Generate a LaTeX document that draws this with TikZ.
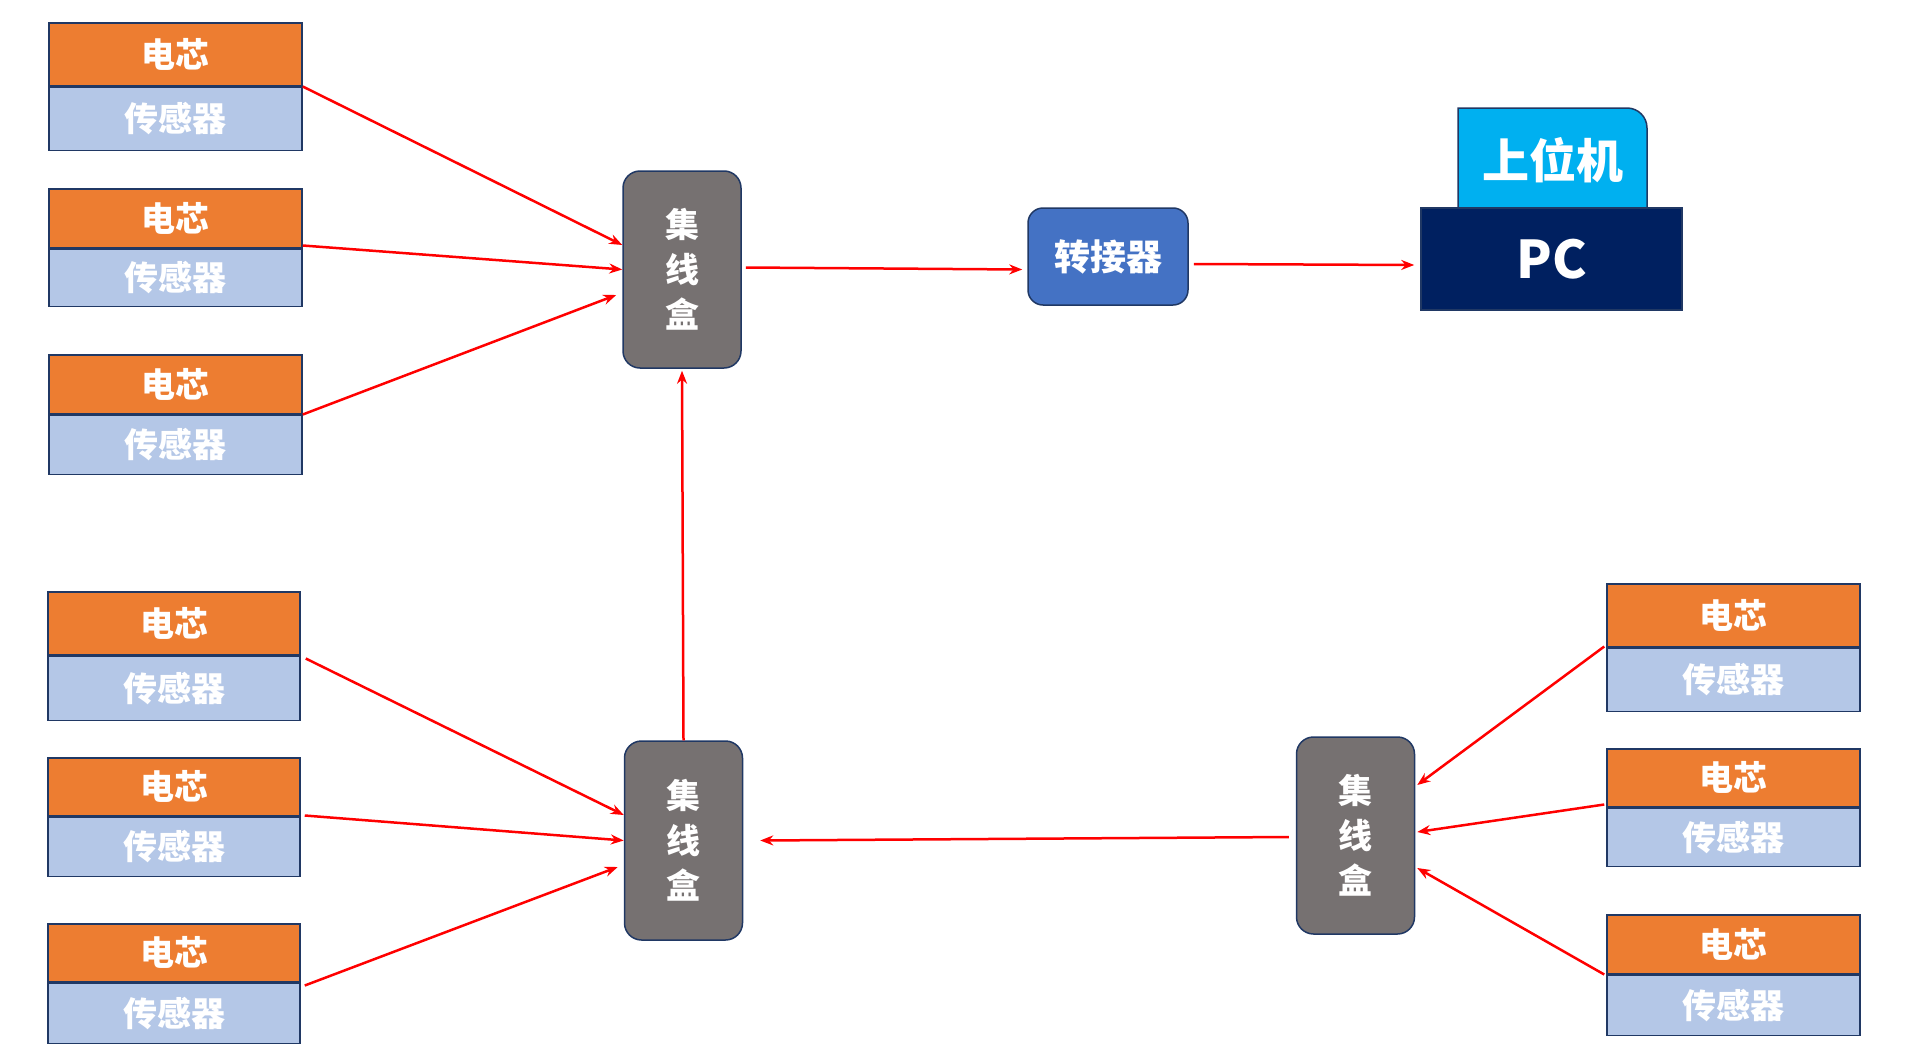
\documentclass[tikz,border=0pt]{standalone}
\usepackage{fontspec}
\setmainfont{Noto Sans CJK SC}
\usetikzlibrary{arrows.meta,calc}
\definecolor{bord}{HTML}{203864}
\definecolor{orng}{HTML}{ED7D31}
\definecolor{lblue}{HTML}{B4C7E7}
\definecolor{hgray}{HTML}{767171}
\definecolor{ablue}{HTML}{4472C4}
\definecolor{cyanb}{HTML}{00B0F0}
\definecolor{navy}{HTML}{002060}
\definecolor{ared}{HTML}{FF0000}
\tikzset{
  chip/.style={rectangle, draw=bord, line width=1.5pt, fill=orng, text=white,
    font=\fontsize{34}{40}\selectfont\bfseries, minimum width=253pt, inner sep=0pt, anchor=north},
  sens/.style={chip, fill=lblue},
  hubbox/.style={rectangle, rounded corners=17pt, draw=bord, line width=1.5pt, fill=hgray,
    text=white, align=center, font=\fontsize{34}{45}\selectfont\bfseries,
    minimum width=118pt, minimum height=197pt, inner sep=0pt},
  link/.style={draw=ared, line width=2.5pt, -{Stealth[length=13pt,width=10pt]}},
}
\begin{document}
\begin{tikzpicture}[x=1pt,y=-1pt]
\useasboundingbox (0,0) rectangle (1914,1060);
% left top sensors
\node[chip, minimum height=63pt] (c1) at (175.5,22) {电芯};
\node[sens, minimum height=63pt] (s1) at (c1.south) {传感器};
\node[chip, minimum height=59pt] (c2) at (175.5,188) {电芯};
\node[sens, minimum height=57pt] (s2) at (c2.south) {传感器};
\node[chip, minimum height=59pt] (c3) at (175.5,354) {电芯};
\node[sens, minimum height=59pt] (s3) at (c3.south) {传感器};
% left bottom sensors
\node[chip, minimum width=252pt, minimum height=63pt] (c4) at (174,591) {电芯};
\node[sens, minimum width=252pt, minimum height=64pt] (s4) at (c4.south) {传感器};
\node[chip, minimum width=252pt, minimum height=58pt] (c5) at (174,757) {电芯};
\node[sens, minimum width=252pt, minimum height=59pt] (s5) at (c5.south) {传感器};
\node[chip, minimum width=252pt, minimum height=58pt] (c6) at (174,923) {电芯};
\node[sens, minimum width=252pt, minimum height=60pt] (s6) at (c6.south) {传感器};
% right sensors
\node[chip, minimum height=63pt] (c7) at (1733.5,583) {电芯};
\node[sens, minimum height=63pt] (s7) at (c7.south) {传感器};
\node[chip, minimum height=58pt] (c8) at (1733.5,748) {电芯};
\node[sens, minimum height=58pt] (s8) at (c8.south) {传感器};
\node[chip, minimum height=59pt] (c9) at (1733.5,914) {电芯};
\node[sens, minimum height=60pt] (s9) at (c9.south) {传感器};
% hubs
\node[hubbox] (hub1) at (682,269.5) {集\\线\\盒};
\node[hubbox, minimum height=199pt] (hub2) at (683.5,840.5) {集\\线\\盒};
\node[hubbox] (hub3) at (1355.5,835.5) {集\\线\\盒};
% adapter
\node[rectangle, rounded corners=15pt, draw=bord, line width=1.5pt, fill=ablue, text=white,
  font=\fontsize{36}{40}\selectfont\bfseries, minimum width=160pt, minimum height=97pt, inner sep=0pt]
  (adapter) at (1108,256.5) {转接器};
% upper computer
\fill[cyanb, draw=bord, line width=1.5pt] (1458,215) -- (1458,108) -- (1627,108)
  to[out=0,in=90] (1647,128) -- (1647,215) -- cycle;
\node[text=white, font=\fontsize{47}{50}\selectfont\bfseries, inner sep=0pt] (upper) at (1552.5,160) {上位机};
\node[rectangle, draw=bord, line width=1.5pt, fill=navy, text=white,
  font=\fontsize{52}{56}\selectfont\bfseries, minimum width=261pt, minimum height=102pt, inner sep=0pt]
  (pc) at (1551.5,259) {PC};
% connectors
\draw[link] (c1.south east) -- ([yshift=24.5pt]hub1.west);
\draw[link] ([yshift=3pt]c2.south east) -- (hub1.west);
\draw[link] (c3.south east) -- ([xshift=-6pt,yshift=-25.5pt]hub1.west);
\draw[link] ([xshift=4pt,yshift=2pt]hub1.east) -- ([xshift=-5pt,yshift=-13pt]adapter.west);
\draw[link] ([xshift=5pt,yshift=-7.5pt]adapter.east) -- ([xshift=-6pt,yshift=-6pt]pc.west);
\draw[link] (hub2.north) -- ([yshift=-2pt]hub1.south);
\draw[link] ([xshift=5pt,yshift=-3pt]c4.south east) -- ([yshift=25.5pt]hub2.west);
\draw[link] ([xshift=4pt,yshift=1pt]c5.south east) -- (hub2.west);
\draw[link] ([xshift=4pt,yshift=-3pt]c6.south east) -- ([xshift=-6pt,yshift=-26.5pt]hub2.west);
\draw[link] ([xshift=-7pt,yshift=-1.5pt]hub3.west) -- ([xshift=17pt]hub2.east);
\draw[link] ([xshift=-2pt,yshift=1pt]c7.south west) -- ([xshift=2pt,yshift=50.5pt]hub3.east);
\draw[link] ([xshift=-2pt,yshift=3pt]c8.south west) -- ([xshift=2pt,yshift=3.5pt]hub3.east);
\draw[link] ([xshift=-2pt]c9.south west) -- ([xshift=2pt,yshift=-32.5pt]hub3.east);
\end{tikzpicture}
\end{document}
